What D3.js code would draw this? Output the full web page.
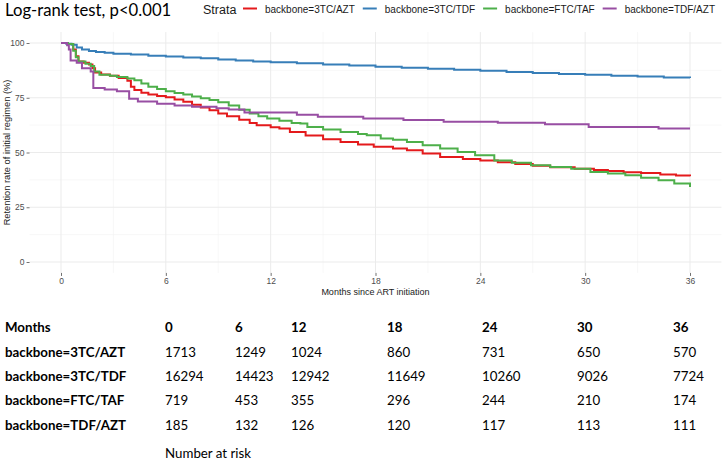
<!DOCTYPE html>
<html>
<head>
<meta charset="utf-8">
<script src="https://cdn.jsdelivr.net/npm/d3@7"></script>
<style>
  body { margin: 0; background: #fff; }
  svg { display: block; }
</style>
</head>
<body>
<div class="chart-box"></div>
<script>
let width = 724;
let height = 462;

// strata names and colours
let strata = ['backbone=3TC/AZT', 'backbone=3TC/TDF', 'backbone=FTC/TAF', 'backbone=TDF/AZT'];
let strataColors = ['#E41A1C', '#377EB8', '#4DAF4A', '#984EA3'];

// KM curves: month at which each step starts, and retention (%) after it
let time3TCAZT = [0, 0.4, 0.7, 0.85, 1.0, 1.3, 1.6, 1.8, 1.95, 2.3, 2.8, 3.3, 3.8, 4.0, 4.2, 4.6, 5.0, 5.5, 6.0, 6.5, 7.0, 7.5, 8.0, 8.5, 9.0, 9.5, 10.2, 10.8, 11.2, 12.0, 12.5, 13.1, 14, 15, 16, 17, 17.9, 19, 19.8, 20.7, 21.7, 23, 24, 25, 26, 27, 28, 29.4, 30.5, 31.3, 32.2, 33.2, 34.3, 35.2, 36];
let surv3TCAZT = [100, 99.5, 97, 94, 91.5, 91, 90.2, 88.5, 86.5, 85.6, 85, 84, 82.8, 80, 78.5, 77.3, 76.5, 75.8, 75.2, 74.2, 73.2, 71.8, 70.5, 69.3, 67.8, 66.6, 65.0, 63.5, 62.5, 61.5, 61.0, 59.4, 57.8, 56.0, 54.8, 53.6, 52.6, 51.8, 51.0, 49.5, 48.0, 47.0, 46.3, 45.6, 44.8, 44.0, 43.3, 42.6, 42.0, 41.5, 41.0, 40.6, 40.0, 39.5, 39.1];

let time3TCTDF = [0, 0.3, 0.6, 0.9, 1.2, 1.6, 2.0, 2.5, 3.0, 4.0, 5.0, 6.0, 7, 8, 9, 10, 11, 12, 13.5, 15, 16.5, 18, 19.5, 21, 22.5, 24, 25.5, 27, 28.5, 30, 31.5, 33, 34.5, 36];
let surv3TCTDF = [100, 99.7, 99.2, 98.0, 97.0, 96.4, 95.9, 95.5, 95.1, 94.7, 94.2, 93.8, 93.4, 93.0, 92.5, 92.0, 91.6, 91.2, 90.7, 90.2, 89.7, 89.2, 88.7, 88.2, 87.8, 87.3, 86.8, 86.3, 85.9, 85.5, 85.1, 84.7, 84.3, 84.0];

let timeFTCTAF = [0, 0.4, 0.7, 0.85, 1.0, 1.4, 1.7, 1.9, 2.2, 2.8, 3.2, 3.8, 4.2, 4.6, 5.0, 5.5, 6.0, 6.5, 7.0, 7.5, 8.0, 8.5, 9.0, 9.6, 10.2, 10.8, 11.3, 11.8, 12.5, 13.2, 13.7, 14.1, 15, 16, 17, 17.5, 18.3, 19, 19.8, 20.7, 21.7, 22.7, 23.7, 24.8, 25.8, 26.9, 28, 29.2, 30.3, 31.3, 32.3, 33.2, 34.2, 35.1, 36];
let survFTCTAF = [100, 99.5, 96.5, 93.5, 91.5, 90.5, 89.5, 87, 85.5, 85, 84.5, 83.8, 83, 81.5, 80, 79, 78, 77.2, 76.5, 75.6, 74.8, 74, 73, 71.5, 69.5, 67.8, 66.5, 65.5, 64.5, 63.5, 63.2, 61.7, 60.5, 59.4, 58.5, 57.9, 56.4, 55.8, 54.8, 53.3, 51.8, 50.2, 48.7, 46.4, 45.3, 44.2, 43.4, 42.6, 41.1, 40.4, 39.6, 38.5, 37.3, 35.8, 34.2];

let timeTDFAZT = [0, 0.35, 0.45, 0.55, 0.9, 1.2, 1.7, 1.85, 2.5, 3.2, 3.9, 4.4, 5.5, 6.5, 7.5, 8.9, 9.6, 10.5, 13.5, 14.7, 17.3, 19.6, 21.9, 25, 27.7, 30.2, 34.2, 36];
let survTDFAZT = [100, 99, 97, 92, 91, 88.5, 87, 79.5, 78.8, 78, 74.5, 73.3, 72.3, 71.5, 70.9, 70.2, 69.6, 68.3, 67.2, 66.3, 65.5, 64.8, 64.0, 63.6, 62.9, 61.6, 61.0, 61.0];

let curveTimes = [time3TCAZT, time3TCTDF, timeFTCTAF, timeTDFAZT];
let curveSurv = [surv3TCAZT, surv3TCTDF, survFTCTAF, survTDFAZT];

// axes
let xTicks = [0, 6, 12, 18, 24, 30, 36];
let xMinor = [3, 9, 15, 21, 27, 33];
let yTicks = [0, 25, 50, 75, 100];
let yMinor = [12.5, 37.5, 62.5, 87.5];

// number at risk table
let riskMonths = ['0', '6', '12', '18', '24', '30', '36'];
let risk3TCAZT = [1713, 1249, 1024, 860, 731, 650, 570];
let risk3TCTDF = [16294, 14423, 12942, 11649, 10260, 9026, 7724];
let riskFTCTAF = [719, 453, 355, 296, 244, 210, 174];
let riskTDFAZT = [185, 132, 126, 120, 117, 113, 111];
let riskRows = [risk3TCAZT, risk3TCTDF, riskFTCTAF, riskTDFAZT];

// table layout (word-style table under the plot)
let tableColX = [165, 235, 291, 387, 482, 577, 673];
let tableRowY = [332, 357, 381, 405, 430];

let svg = d3.select('.chart-box')
  .append('svg')
  .attr('width', width)
  .attr('height', height)
  .style('background', '#fff');

let x = d3.scaleLinear().domain([0, 36]).range([61, 690]);
let y = d3.scaleLinear().domain([0, 100]).range([262, 43]);

let px0 = x(-1.8), px1 = x(37.8), py0 = y(105), py1 = y(-5);

//grid
let grid = svg.append('g');
grid.selectAll('.xminor').data(xMinor).enter().append('line')
  .attr('x1', d => x(d)).attr('x2', d => x(d))
  .attr('y1', py0).attr('y2', py1)
  .attr('stroke', '#f3f3f3').attr('stroke-width', 0.6);
grid.selectAll('.yminor').data(yMinor).enter().append('line')
  .attr('x1', px0).attr('x2', px1)
  .attr('y1', d => y(d)).attr('y2', d => y(d))
  .attr('stroke', '#f3f3f3').attr('stroke-width', 0.6);
grid.selectAll('.xmajor').data(xTicks).enter().append('line')
  .attr('x1', d => x(d)).attr('x2', d => x(d))
  .attr('y1', py0).attr('y2', py1)
  .attr('stroke', '#ebebeb').attr('stroke-width', 1);
grid.selectAll('.ymajor').data(yTicks).enter().append('line')
  .attr('x1', px0).attr('x2', px1)
  .attr('y1', d => y(d)).attr('y2', d => y(d))
  .attr('stroke', '#ebebeb').attr('stroke-width', 1);

//axes
let xAxis = svg.append('g')
  .attr('transform', 'translate(0,' + py1 + ')')
  .call(d3.axisBottom(x).tickValues(xTicks).tickSize(3).tickPadding(2));
let yAxis = svg.append('g')
  .attr('transform', 'translate(' + px0 + ',0)')
  .call(d3.axisLeft(y).tickValues(yTicks).tickSize(3).tickPadding(2));
[xAxis, yAxis].forEach(function (a) {
  a.select('.domain').remove();
  a.selectAll('line').attr('stroke', '#333').attr('stroke-width', 0.7);
  a.selectAll('text')
    .style('font-family', '"Liberation Sans", Arial, sans-serif')
    .style('font-size', '8.5px')
    .attr('fill', '#4d4d4d');
});

svg.append('text')
  .attr('x', (px0 + px1) / 2).attr('y', 295)
  .attr('text-anchor', 'middle')
  .style('font-family', '"Liberation Sans", Arial, sans-serif')
  .style('font-size', '9px')
  .attr('fill', '#1a1a1a')
  .text('Months since ART initiation');

svg.append('text')
  .attr('transform', 'translate(10,' + ((py0 + py1) / 2) + ') rotate(-90)')
  .attr('text-anchor', 'middle')
  .style('font-family', '"Liberation Sans", Arial, sans-serif')
  .style('font-size', '9.3px')
  .attr('fill', '#1a1a1a')
  .text('Retention rate of initial regimen (%)');

//curves
let line = d3.line()
  .x(d => x(d[0]))
  .y(d => y(d[1]))
  .curve(d3.curveStepAfter);

svg.append('g')
  .selectAll('path')
  .data(curveTimes.map((t, i) => t.map((m, j) => [m, curveSurv[i][j]])))
  .enter()
  .append('path')
  .attr('d', line)
  .attr('fill', 'none')
  .attr('stroke', (d, i) => strataColors[i])
  .attr('stroke-width', 2);

//title
svg.append('text')
  .attr('x', 5).attr('y', 16)
  .style('font-family', 'Lato, "Noto Sans", sans-serif')
  .style('font-size', '16.7px')
  .attr('fill', '#000')
  .text('Log-rank test, p<0.001');

//legend
let legend = svg.append('g')
  .style('font-family', '"Liberation Sans", Arial, sans-serif');
legend.append('text')
  .attr('x', 203).attr('y', 13.5)
  .style('font-size', '12.5px')
  .attr('fill', '#1a1a1a')
  .text('Strata');
let lx = 243;
strata.forEach(function (s, i) {
  legend.append('line')
    .attr('x1', lx).attr('x2', lx + 14)
    .attr('y1', 8.5).attr('y2', 8.5)
    .attr('stroke', strataColors[i]).attr('stroke-width', 2);
  let t = legend.append('text')
    .attr('x', lx + 22).attr('y', 12.5)
    .style('font-size', '10px')
    .attr('fill', '#1a1a1a')
    .text(s);
  lx = lx + 22 + t.node().getComputedTextLength() + 8;
});

//number at risk table
let table = svg.append('g')
  .style('font-family', 'Lato, "Noto Sans", sans-serif')
  .attr('fill', '#000');
table.append('text')
  .attr('x', 5).attr('y', tableRowY[0])
  .style('font-size', '13.3px').style('font-weight', 'bold')
  .text('Months');
table.selectAll('.hdr').data(riskMonths).enter().append('text')
  .attr('x', (d, i) => tableColX[i]).attr('y', tableRowY[0])
  .style('font-size', '13.3px').style('font-weight', 'bold')
  .text(d => d);
riskRows.forEach(function (row, r) {
  table.append('text')
    .attr('x', 5).attr('y', tableRowY[r + 1])
    .style('font-size', '13.3px').style('font-weight', 'bold')
    .text(strata[r]);
  table.selectAll('.r' + r).data(row).enter().append('text')
    .attr('x', (d, i) => tableColX[i]).attr('y', tableRowY[r + 1])
    .style('font-size', '13.3px')
    .text(d => d);
});
table.append('text')
  .attr('x', 165).attr('y', 458)
  .style('font-size', '13.3px')
  .text('Number at risk');
</script>
</body>
</html>
